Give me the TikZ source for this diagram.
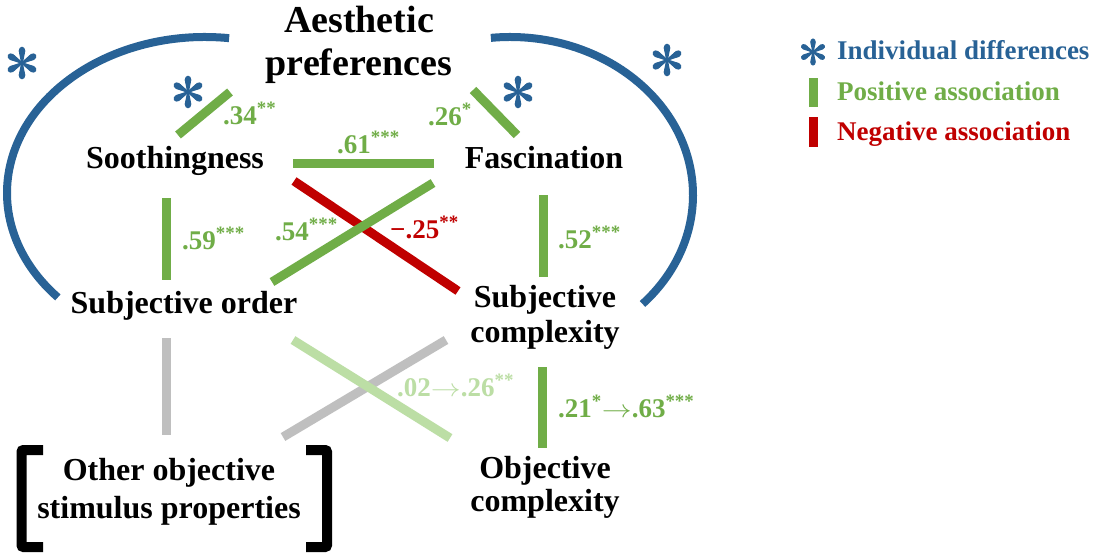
\documentclass[tikz,border=0pt]{standalone}
\usepackage{graphicx}
\usepackage{fontspec}
\setmainfont{Liberation Serif}
\definecolor{idblue}{RGB}{40,98,150}
\definecolor{posgreen}{RGB}{112,173,71}
\definecolor{negred}{RGB}{192,0,0}
\definecolor{palegreen}{RGB}{188,222,165}
\definecolor{lightgrey}{RGB}{191,191,191}
\newcommand{\signif}[1]{\textsuperscript{#1}}
\newcommand{\grows}{\scalebox{1.2}[1]{\ensuremath{\rightarrow}}}
\tikzset{
  indiv/.pic={
    \foreach \a in {30,90,150,210,270,330}{
      \fill[idblue, rotate=\a] (0,-0.9) -- (10.5,-3.0) -- (10.5,3.0) -- (0,0.9) -- cycle;
      \fill[idblue, rotate=\a] (12,0) ellipse[x radius=4.3, y radius=3.4];
    }
  }
}
\begin{document}
\begin{tikzpicture}[x=1pt, y=-1pt,
  concept/.style={font=\bfseries\fontsize{32}{35}\selectfont, align=center, inner sep=0pt, anchor=base},
  coef/.style={font=\bfseries\fontsize{27}{30}\selectfont, inner sep=0pt, anchor=base west, text=posgreen},
  legtext/.style={font=\bfseries\fontsize{27}{30}\selectfont, inner sep=0pt, anchor=base west},
  bar/.style={line width=9pt, draw=posgreen},
  arcline/.style={line width=8pt, draw=idblue},
  bracket/.style={line width=10pt, draw=black, rounded corners=2pt}]
\path[fill=white, use as bounding box] (0,0) rectangle (1097,552);

% concepts (multi-line nodes are placed by the baseline of their last line)
\node[concept, font=\bfseries\fontsize{38}{43}\selectfont] (pref) at (359,75) {Aesthetic\\preferences};
\node[concept] (sooth) at (175,168) {Soothingness};
\node[concept] (fasc) at (544,168) {Fascination};
\node[concept] (sord) at (184,313) {Subjective order};
\node[concept, font=\bfseries\fontsize{32}{35}\selectfont] (scpx) at (545,342) {Subjective\\complexity};
\node[concept, font=\bfseries\fontsize{32}{33}\selectfont] (ocpx) at (545,511) {Objective\\complexity};
\node[concept, font=\bfseries\fontsize{32}{38}\selectfont] (other) at (169,518) {Other objective\\stimulus properties};

% bar end points
\coordinate (s34a) at (178,135);  \coordinate (s34b) at (230,92);
\coordinate (f26a) at (473,90);   \coordinate (f26b) at (517,135);
\coordinate (sf61a) at (293,163); \coordinate (sf61b) at (434,163);
\coordinate (sc25a) at (294,181); \coordinate (sc25b) at (458,291);
\coordinate (fo54a) at (433,183); \coordinate (fo54b) at (272,282);
\coordinate (so59a) at (166,198); \coordinate (so59b) at (166,280);
\coordinate (fc52a) at (543,195); \coordinate (fc52b) at (543,277);
\coordinate (oo1a) at (166,338);  \coordinate (oo1b) at (166,435);
\coordinate (oc1a) at (283,437);  \coordinate (oc1b) at (446,340);
\coordinate (so02a) at (293,340); \coordinate (so02b) at (450,438);
\coordinate (cc21a) at (542,367); \coordinate (cc21b) at (542,448);

% associations
\draw[bar] (s34a) -- (s34b);
\draw[bar] (f26a) -- (f26b);
\draw[bar] (sf61a) -- (sf61b);
\draw[bar, draw=negred] (sc25a) -- (sc25b);
\draw[bar] (fo54a) -- (fo54b);
\draw[bar] (so59a) -- (so59b);
\draw[bar] (fc52a) -- (fc52b);
\draw[bar, draw=lightgrey] (oo1a) -- (oo1b);
\draw[bar, draw=lightgrey] (oc1a) -- (oc1b);
\draw[bar, draw=palegreen] (so02a) -- (so02b);
\draw[bar] (cc21a) -- (cc21b);

% individual-difference arcs
\draw[arcline] ([shift={(-83:198 and 156)}]205,193) arc[start angle=-83, end angle=-222, x radius=198, y radius=156];
\draw[arcline] ([shift={(-96:183 and 158)}]510,195) arc[start angle=-96, end angle=43.6, x radius=183, y radius=158];

% asterisks
\pic at (22,63) {indiv};
\pic at (188,92) {indiv};
\pic at (518,92) {indiv};
\pic at (667,60) {indiv};

% brackets
\draw[bracket] (43,450) -- (21.5,450) -- (21.5,547) -- (43,547);
\draw[bracket] (306,450) -- (327,450) -- (327,547) -- (306,547);

% coefficients
\node[coef] (c34) at (223,124) {.34\signif{**}};
\node[coef] (c26) at (428,125) {.26\signif{*}};
\node[coef] (c61) at (337,153) {.61\signif{***}};
\node[coef] (c54) at (275,240) {.54\signif{***}};
\node[coef, text=negred] (c25) at (390,238) {−.25\signif{**}};
\node[coef] (c59) at (182,249) {.59\signif{***}};
\node[coef] (c52) at (558,248) {.52\signif{***}};
\node[coef, text=palegreen] (c02) at (397,396) {.02\grows.26\signif{**}};
\node[coef] (c21) at (558,417) {.21\signif{*}\grows.63\signif{***}};

% legend
\pic[scale=0.83] at (813,52) {indiv};
\draw[bar] (813,78) -- (813,107);
\draw[bar, draw=negred] (813,117) -- (813,147);
\node[legtext, text=idblue] (legind) at (837,59) {Individual differences};
\node[legtext, text=posgreen] (legpos) at (837,100) {Positive association};
\node[legtext, text=negred] (legneg) at (837,140) {Negative association};
\end{tikzpicture}
\end{document}
